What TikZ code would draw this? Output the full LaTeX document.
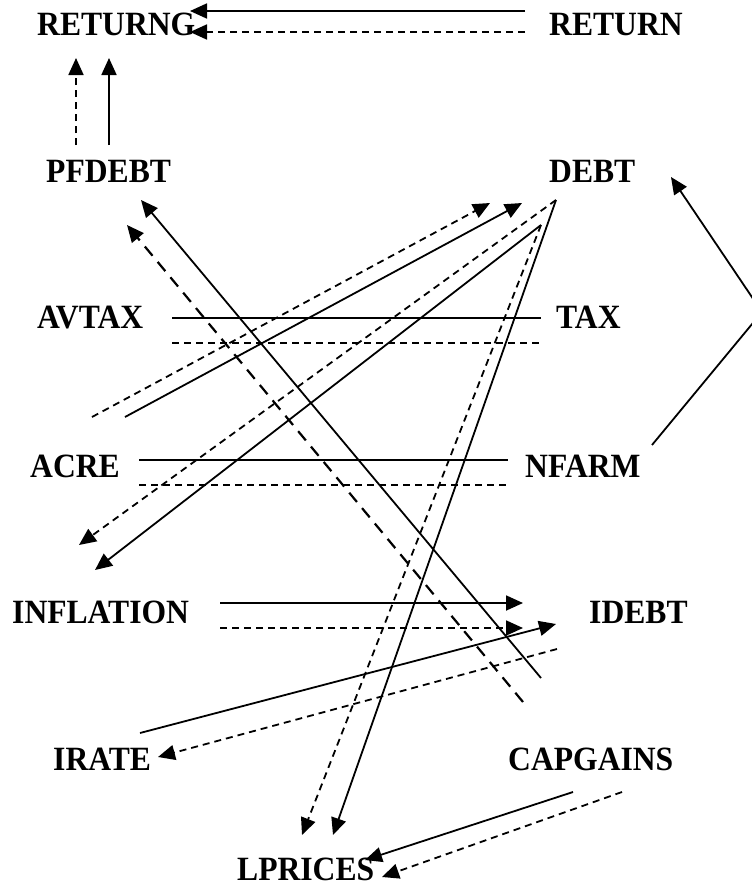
\documentclass[tikz,border=0pt]{standalone}
\usepackage{fontspec}
\setmainfont{Liberation Serif}[FakeStretch=0.93]
\usetikzlibrary{arrows.meta}
\begin{document}
\begin{tikzpicture}[x=1pt,y=-1pt,
  lbl/.style={anchor=base west, inner sep=0pt, font=\fontsize{34}{38}\selectfont\bfseries},
  conn/.style={line width=1.8pt},
  arr/.style={conn, -{Triangle[length=17pt,width=15pt]}},
  dsh/.style={dash pattern=on 7pt off 5pt},
  ldsh/.style={dash pattern=on 12pt off 8pt, line width=2.2pt}]
\useasboundingbox (0,0) rectangle (752,886);
\clip (0,0) rectangle (752,886);
\fill[white] (0,0) rectangle (752,886);

% labels
\node[lbl] (returng) at (37,35) {RETURNG};
\node[lbl] (return) at (549,35) {RETURN};
\node[lbl] (pfdebt) at (46,182) {PFDEBT};
\node[lbl] (debt) at (549,182) {DEBT};
\node[lbl] (avtax) at (37,328) {AVTAX};
\node[lbl] (tax) at (556,328) {TAX};
\node[lbl] (acre) at (30,477) {ACRE};
\node[lbl] (nfarm) at (525,477) {NFARM};
\node[lbl] (inflation) at (12,623) {INFLATION};
\node[lbl] (idebt) at (589,623) {IDEBT};
\node[lbl] (irate) at (53,770) {IRATE};
\node[lbl] (capgains) at (508,770) {CAPGAINS};
\node[lbl] (lprices) at (237,880) {LPRICES};

% connector end points
\coordinate (return-a) at (525,11);  \coordinate (returng-a) at (190,11);
\coordinate (return-b) at (525,32);  \coordinate (returng-b) at (190,32);
\coordinate (pfdebt-a) at (76,145);  \coordinate (returng-c) at (76,58);
\coordinate (pfdebt-b) at (109,145); \coordinate (returng-d) at (109,58);
\coordinate (capgains-a) at (541,678); \coordinate (pfdebt-c) at (141,200);
\coordinate (capgains-b) at (523,702); \coordinate (pfdebt-d) at (127,225);
\coordinate (acre-a) at (92,417);   \coordinate (debt-a) at (490,203);
\coordinate (acre-b) at (125,417);  \coordinate (debt-b) at (522,203);
\coordinate (debt-c) at (556,200);  \coordinate (debt-d) at (541,225);
\coordinate (lprices-a) at (333,835); \coordinate (lprices-b) at (302,835);
\coordinate (inflation-a) at (79,545); \coordinate (inflation-b) at (95,570);
\coordinate (nfarm-a) at (652,445); \coordinate (bend) at (762,312); \coordinate (debt-e) at (671,177);
\coordinate (avtax-a) at (172,318); \coordinate (tax-a) at (541,318);
\coordinate (avtax-b) at (172,343); \coordinate (tax-b) at (541,343);
\coordinate (acre-c) at (139,460); \coordinate (nfarm-b) at (508,460);
\coordinate (acre-d) at (139,485); \coordinate (nfarm-c) at (508,485);
\coordinate (inflation-c) at (220,603); \coordinate (idebt-a) at (523,603);
\coordinate (inflation-d) at (220,628); \coordinate (idebt-b) at (523,628);
\coordinate (irate-a) at (140,733); \coordinate (idebt-c) at (556,624);
\coordinate (idebt-d) at (557,649); \coordinate (irate-b) at (158,757);
\coordinate (capgains-c) at (573,792); \coordinate (lprices-c) at (365,860);
\coordinate (capgains-d) at (622,792); \coordinate (lprices-d) at (382,877);

% connectors
\draw[arr] (return-a) -- (returng-a);
\draw[arr,dsh] (return-b) -- (returng-b);
\draw[arr,dsh] (pfdebt-a) -- (returng-c);
\draw[arr] (pfdebt-b) -- (returng-d);
\draw[arr] (capgains-a) -- (pfdebt-c);
\draw[arr,ldsh] (capgains-b) -- (pfdebt-d);
\draw[arr,dsh] (acre-a) -- (debt-a);
\draw[arr] (acre-b) -- (debt-b);
\draw[arr] (debt-c) -- (lprices-a);
\draw[arr,dsh] (debt-c) -- (inflation-a);
\draw[arr] (debt-d) -- (inflation-b);
\draw[arr,dsh] (debt-d) -- (lprices-b);
\draw[arr] (nfarm-a) -- (bend) -- (debt-e);
\draw[conn] (avtax-a) -- (tax-a);
\draw[conn,dsh] (avtax-b) -- (tax-b);
\draw[conn] (acre-c) -- (nfarm-b);
\draw[conn,dsh] (acre-d) -- (nfarm-c);
\draw[arr] (inflation-c) -- (idebt-a);
\draw[arr,dsh] (inflation-d) -- (idebt-b);
\draw[arr] (irate-a) -- (idebt-c);
\draw[arr,dsh] (idebt-d) -- (irate-b);
\draw[arr] (capgains-c) -- (lprices-c);
\draw[arr,dsh] (capgains-d) -- (lprices-d);
\end{tikzpicture}
\end{document}
